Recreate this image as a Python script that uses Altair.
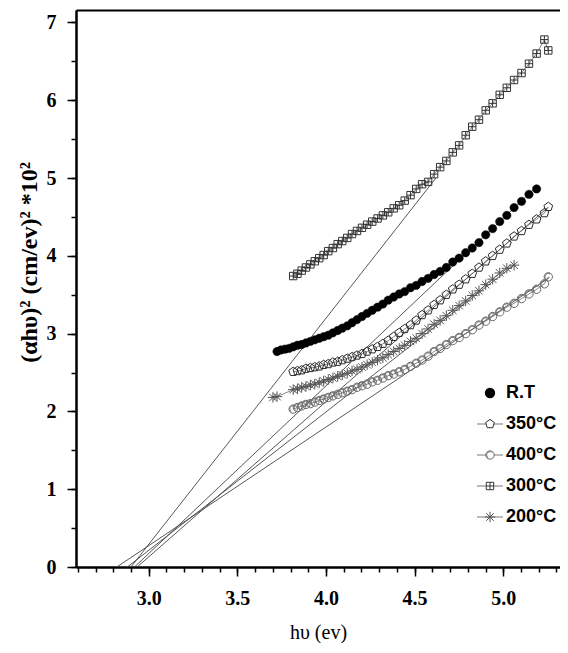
import altair as alt
import pandas as pd

# photon energies (eV) of the measured points
hv = [3.701, 3.724, 3.746, 3.769, 3.792, 3.815, 3.839, 3.863, 3.887, 3.912,
      3.937, 3.962, 3.987, 4.013, 4.039, 4.066, 4.092, 4.120, 4.147, 4.175,
      4.203, 4.232, 4.261, 4.291, 4.321, 4.351, 4.382, 4.413, 4.444, 4.477,
      4.509, 4.542, 4.576, 4.610, 4.644, 4.679, 4.715, 4.751, 4.788, 4.825,
      4.863, 4.901, 4.940, 4.980, 5.020, 5.061, 5.103, 5.145, 5.188, 5.232,
      5.254]

series_names = ["R.T", "350°C", "400°C", "300°C", "200°C"]
start_idx = [1, 5, 5, 5, 0]

y_rt = [2.77, 2.79, 2.80, 2.81, 2.83, 2.85, 2.86, 2.88, 2.90, 2.92,
        2.94, 2.96, 2.98, 3.01, 3.04, 3.07, 3.10, 3.14, 3.18, 3.22,
        3.26, 3.30, 3.34, 3.38, 3.43, 3.47, 3.51, 3.54, 3.59, 3.62,
        3.67, 3.71, 3.76, 3.80, 3.85, 3.92, 3.97, 4.04, 4.10, 4.17,
        4.27, 4.35, 4.44, 4.52, 4.62, 4.70, 4.79, 4.86]

y_350 = [2.51, 2.52, 2.53, 2.55, 2.56, 2.57, 2.58, 2.60, 2.61, 2.63,
         2.64, 2.66, 2.68, 2.70, 2.72, 2.74, 2.77, 2.80, 2.83, 2.87,
         2.91, 2.96, 3.01, 3.06, 3.11, 3.17, 3.24, 3.30, 3.37, 3.43,
         3.50, 3.57, 3.63, 3.70, 3.77, 3.85, 3.93, 4.00, 4.08, 4.16,
         4.25, 4.32, 4.40, 4.47, 4.55, 4.63]

y_400 = [2.03, 2.05, 2.07, 2.09, 2.10, 2.12, 2.14, 2.16, 2.18, 2.20,
         2.22, 2.24, 2.26, 2.28, 2.31, 2.33, 2.35, 2.38, 2.40, 2.43,
         2.46, 2.48, 2.51, 2.54, 2.58, 2.62, 2.66, 2.71, 2.77, 2.81,
         2.86, 2.91, 2.95, 3.00, 3.05, 3.11, 3.16, 3.22, 3.28, 3.34,
         3.39, 3.45, 3.51, 3.57, 3.64, 3.73]

y_300 = [3.74, 3.77, 3.81, 3.85, 3.89, 3.93, 3.97, 4.01, 4.06, 4.10,
         4.15, 4.19, 4.23, 4.28, 4.32, 4.36, 4.40, 4.44, 4.48, 4.52,
         4.56, 4.61, 4.65, 4.71, 4.78, 4.86, 4.92, 4.95, 5.05, 5.14,
         5.22, 5.33, 5.42, 5.55, 5.66, 5.75, 5.87, 5.96, 6.07, 6.16,
         6.26, 6.35, 6.47, 6.60, 6.78, 6.64]

y_200 = [2.18, 2.19, None, None, None, 2.28, 2.29, 2.31, 2.32, 2.34,
         2.35, 2.37, 2.39, 2.41, 2.43, 2.45, 2.47, 2.49, 2.52, 2.54,
         2.57, 2.60, 2.63, 2.66, 2.69, 2.73, 2.77, 2.81, 2.85, 2.90,
         2.94, 3.00, 3.06, 3.12, 3.17, 3.23, 3.30, 3.36, 3.42, 3.49,
         3.55, 3.63, 3.70, 3.78, 3.84, 3.88]

series_y = [y_rt, y_350, y_400, y_300, y_200]

# linear (Tauc) fits: from x-intercept up to an end point
fit_x0 = [2.92, 2.935, 2.82, 2.90, 2.88]
fit_x1 = [5.17, 5.25, 5.26, 4.62, 5.06]
fit_y1 = [4.85, 4.62, 3.72, 5.00, 3.88]

x_major = [3.0, 3.5, 4.0, 4.5, 5.0]
x_minor = [2.6, 2.7, 2.8, 2.9, 3.0, 3.1, 3.2, 3.3, 3.4, 3.5, 3.6, 3.7, 3.8,
           3.9, 4.0, 4.1, 4.2, 4.3, 4.4, 4.5, 4.6, 4.7, 4.8, 4.9, 5.0, 5.1,
           5.2, 5.3]
y_major = [0, 1, 2, 3, 4, 5, 6, 7]
y_minor = [0, 0.5, 1, 1.5, 2, 2.5, 3, 3.5, 4, 4.5, 5, 5.5, 6, 6.5, 7]

# ---------------------------------------------------------------
W, H = 484, 557
SERIF = "Liberation Serif"
SANS = "Liberation Sans"

xs = alt.Scale(domain=[2.59, 5.32], nice=False, zero=False)
ys = alt.Scale(domain=[0, 7.16], nice=False, zero=False)

PENT = "M0,-1L0.951,-0.309L0.588,0.809L-0.588,0.809L-0.951,-0.309Z"
SQPLUS = "M-1,-1L1,-1L1,1L-1,1Z M0,-1L0,1 M-1,0L1,0"
AST = "M0,-1.1L0,1.1 M-1.1,0L1.1,0 M-0.8,-0.8L0.8,0.8 M-0.8,0.8L0.8,-0.8"
CIRC2 = "M1,0A1,1 0 1 1 -1,0A1,1 0 1 1 1,0Z M-0.4,0.7A0.7,0.7 0 0 1 0.4,-0.7"

styles = {
    "R.T": dict(shape="circle", filled=True, color="#000000", size=70, line=False),
    "350°C": dict(shape=PENT, filled=False, color="#2a2a2a", size=85, line=True),
    "400°C": dict(shape=CIRC2, filled=False, color="#6a6a6a", size=70, line=True),
    "300°C": dict(shape=SQPLUS, filled=False, color="#333333", size=55, line=True),
    "200°C": dict(shape=AST, filled=False, color="#555555", size=90, line=True),
}

# data frames
dfs = {}
for name, st, ylist in zip(series_names, start_idx, series_y):
    rows = []
    for i, v in enumerate(ylist):
        if v is None:
            continue
        rows.append({"series": name, "hv": hv[st + i], "y": v})
    dfs[name] = pd.DataFrame(rows)

fit_rows = []
for name, a, b, c in zip(series_names, fit_x0, fit_x1, fit_y1):
    fit_rows.append({"series": name, "hv": a, "y": 0.0})
    fit_rows.append({"series": name, "hv": b, "y": c})
fit_df = pd.DataFrame(fit_rows)

major_x_axis = alt.Axis(
    orient="bottom", values=x_major, format=".1f", tickSize=9, tickWidth=1.5,
    tickColor="black", domain=True, domainColor="black", domainWidth=2,
    labelFont=SERIF, labelFontWeight="bold", labelFontSize=20, labelColor="black",
    labelPadding=12, labelFlush=False, labelOverlap=False,
    title="hυ (ev)", titleFont=SERIF, titleFontWeight="normal", titleFontSize=20,
    titleColor="black", titlePadding=14, grid=False)
major_y_axis = alt.Axis(
    orient="left", values=y_major, format="d", tickSize=9, tickWidth=1.5,
    tickColor="black", domain=True, domainColor="black", domainWidth=2,
    labelFont=SERIF, labelFontWeight="bold", labelFontSize=20, labelColor="black",
    labelPadding=11, labelFlush=False, labelOverlap=False,
    title="(αhυ)² (cm/ev)² *10²", titleFont=SERIF, titleFontWeight="bold",
    titleFontSize=24, titleColor="black", titlePadding=5, titleY=252, grid=False)
minor_x_axis = alt.Axis(
    orient="bottom", values=x_minor, tickSize=5, tickWidth=1.5, tickColor="black",
    labels=False, title="", domain=True, domainColor="black", domainWidth=2, grid=False)
minor_y_axis = alt.Axis(
    orient="left", values=y_minor, tickSize=5, tickWidth=1.5, tickColor="black",
    labels=False, title="", domain=True, domainColor="black", domainWidth=2, grid=False)
top_axis = alt.Axis(
    orient="top", ticks=False, labels=False, title="", domain=True,
    domainColor="black", domainWidth=2, grid=False)

layers = []

fit = alt.Chart(fit_df).mark_line(color="#444444", strokeWidth=0.9).encode(
    x=alt.X("hv:Q", scale=xs, axis=major_x_axis),
    y=alt.Y("y:Q", scale=ys, axis=major_y_axis),
    detail="series:N")
layers.append(fit)

first = True
for name in series_names:
    s = styles[name]
    df = dfs[name]
    if s["line"]:
        layers.append(alt.Chart(df).mark_line(color="#666666", strokeWidth=0.8).encode(
            x=alt.X("hv:Q", scale=xs, axis=None),
            y=alt.Y("y:Q", scale=ys, axis=None)))
    if first:
        xa, ya = minor_x_axis, minor_y_axis
    elif name == "350°C":
        xa, ya = top_axis, None
    else:
        xa, ya = None, None
    if s["filled"]:
        mk = alt.Chart(df).mark_point(shape=s["shape"], filled=True, fill=s["color"],
                                      stroke=s["color"], strokeWidth=0.5, size=s["size"], opacity=1)
    else:
        mk = alt.Chart(df).mark_point(shape=s["shape"], filled=False, stroke=s["color"],
                                      strokeWidth=1, size=s["size"], opacity=1)
    layers.append(mk.encode(
        x=alt.X("hv:Q", scale=xs, axis=xa),
        y=alt.Y("y:Q", scale=ys, axis=ya)))
    first = False

# legend (drawn inside the plot area)
leg_x_sym = 414
leg_y0 = 383
leg_dy = 31
for i, name in enumerate(series_names):
    s = styles[name]
    yy = leg_y0 + i * leg_dy
    one = pd.DataFrame({"t": [name]})
    if s["line"]:
        layers.append(alt.Chart(one).mark_rule(color="#666666", strokeWidth=0.9).encode(
            x=alt.value(leg_x_sym - 13), x2=alt.value(leg_x_sym + 13), y=alt.value(yy)))
    if s["filled"]:
        pm = alt.Chart(one).mark_point(shape=s["shape"], filled=True, fill=s["color"],
                                       stroke=s["color"], size=s["size"], opacity=1)
    else:
        pm = alt.Chart(one).mark_point(shape=s["shape"], filled=False, stroke=s["color"],
                                       fill="white", strokeWidth=1, size=s["size"], opacity=1)
    layers.append(pm.encode(x=alt.value(leg_x_sym), y=alt.value(yy)))
    layers.append(alt.Chart(one).mark_text(
        align="left", baseline="middle", font=SANS, fontSize=18, fontWeight="bold",
        color="black").encode(x=alt.value(leg_x_sym + 16), y=alt.value(yy), text="t:N"))

chart = alt.layer(*layers).resolve_axis(x="independent", y="independent").properties(
    width=W, height=H,
    padding={"left": 68, "top": 2, "right": 0, "bottom": 76},
    autosize=alt.AutoSizeParams(type="none"),
    background="white",
).configure_view(strokeWidth=0)

chart.save("out.html", embed_options={"renderer": "svg", "actions": False})
